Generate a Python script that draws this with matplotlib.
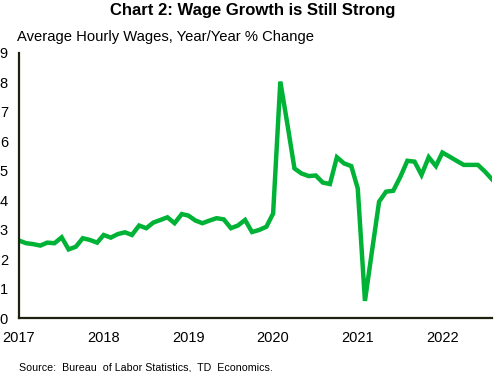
import matplotlib
matplotlib.use("Agg")
import matplotlib.pyplot as plt
import pandas as pd

plt.rcParams['font.family'] = ['Liberation Sans', 'DejaVu Sans']

start_month = '2017-03-01'
wage_growth = [
    2.63, 2.54, 2.51, 2.46, 2.56, 2.54, 2.74, 2.33, 2.42, 2.71, 2.65, 2.56,
    2.82, 2.73, 2.85, 2.91, 2.82, 3.14, 3.05, 3.24, 3.33, 3.42, 3.22, 3.53,
    3.48, 3.31, 3.22, 3.31, 3.39, 3.35, 3.05, 3.14, 3.33, 2.92, 2.99, 3.10,
    3.55, 8.03, 6.61, 5.08, 4.91, 4.82, 4.84, 4.60, 4.55, 5.46, 5.25, 5.16,
    4.40, 0.58, 2.25, 3.95, 4.29, 4.32, 4.80, 5.34, 5.31, 4.86, 5.46, 5.16,
    5.62, 5.48, 5.34, 5.20, 5.20, 5.20, 4.97, 4.71,
]
year_labels = ['2017', '2018', '2019', '2020', '2021', '2022']
y_ticks = [0, 1, 2, 3, 4, 5, 6, 7, 8, 9]

dates = pd.date_range(start_month, periods=len(wage_growth), freq='MS')
tick_dates = [pd.Timestamp(f'{y}-03-01') for y in year_labels]

W, H = 495, 372
fig = plt.figure(figsize=(W / 100, H / 100), dpi=100)
ax = fig.add_axes([19 / W, (H - 318) / H, (492 - 19) / W, (318 - 53) / H])

ax.plot(dates, wage_growth, color='#00b336', linewidth=3.2, solid_joinstyle='miter')

ax.set_xlim(dates[0], dates[-1])
ax.set_ylim(0, 9)
ax.set_yticks(y_ticks)
ax.set_yticklabels([str(t) for t in y_ticks], fontsize=10.5)
ax.set_xticks(tick_dates)
ax.set_xticklabels(year_labels, fontsize=10.5)
ax.tick_params(axis='both', length=0, colors='#000000')
ax.tick_params(axis='y', pad=8)
ax.tick_params(axis='x', pad=9)

for s in ['top', 'right']:
    ax.spines[s].set_visible(False)
for s in ['left', 'bottom']:
    ax.spines[s].set_color('#1f2010')
    ax.spines[s].set_linewidth(1.6)

fig.text(253 / W, 1 - 10 / H, 'Chart 2: Wage Growth is Still Strong', ha='center', va='center',
         fontsize=12, fontweight='bold')
fig.text(17 / W, 1 - 37.5 / H, 'Average Hourly Wages, Year/Year % Change', ha='left', va='center',
         fontsize=10.6)
fig.text(19 / W, 1 - 367 / H, 'Source:  Bureau  of Labor Statistics,  TD  Economics.', ha='left', va='center',
         fontsize=7.7)

fig.savefig('out.png', dpi=100)
